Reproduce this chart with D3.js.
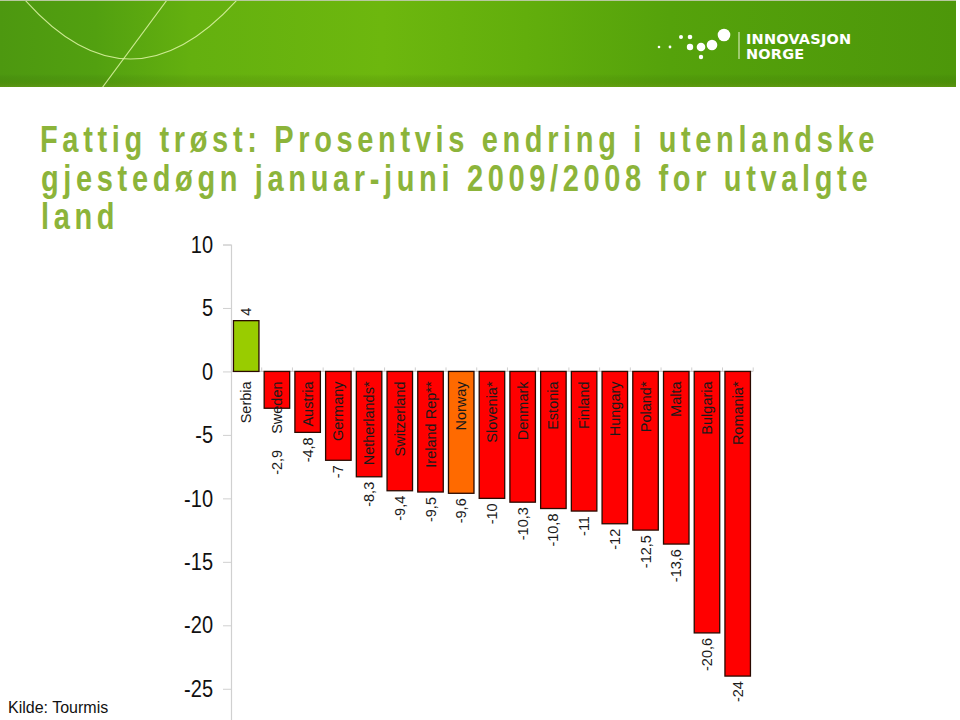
<!DOCTYPE html>
<html>
<head>
<meta charset="utf-8">
<script src="https://cdn.jsdelivr.net/npm/d3@7"></script>
<style>
  html, body { margin: 0; padding: 0; background: #fff; }
  svg { display: block; font-family: Arial, "Liberation Sans", sans-serif; }
</style>
</head>
<body>
<svg id="chart" width="960" height="720"></svg>
<script>
// ---- data ----
const categories = ["Serbia", "Sweden", "Austria", "Germany", "Netherlands*", "Switzerland",
  "Ireland Rep**", "Norway", "Slovenia*", "Denmark", "Estonia", "Finland", "Hungary",
  "Poland*", "Malta", "Bulgaria", "Romania*"];
const values = [4, -2.9, -4.8, -7, -8.3, -9.4, -9.5, -9.6, -10, -10.3, -10.8, -11, -12, -12.5, -13.6, -20.6, -24];
const yTicks = [10, 5, 0, -5, -10, -15, -20, -25];
const titleLines = ["Fattig trøst: Prosentvis endring i utenlandske",
  "gjestedøgn januar-juni 2009/2008 for utvalgte", "land"];
const sourceText = "Kilde: Tourmis";
const logoLines = ["INNOVASJON", "NORGE"];

const data = categories.map((c, i) => ({ cat: c, value: values[i] }));

const svg = d3.select("#chart");

// ---- header banner ----
const defs = svg.append("defs");
const grad = defs.append("linearGradient").attr("id", "banner").attr("x1", 0).attr("x2", 1).attr("y1", 0).attr("y2", 0);
[[0, "#4d9810"], [0.1, "#52a010"], [0.2, "#64b00f"], [0.4, "#6db70e"], [0.55, "#62ae0c"], [0.7, "#55a20b"], [1, "#4d970a"]]
  .forEach(([o, c]) => grad.append("stop").attr("offset", o).attr("stop-color", c));
const vgrad = defs.append("linearGradient").attr("id", "bannerShade").attr("x1", 0).attr("x2", 0).attr("y1", 0).attr("y2", 1);
[[0, "rgba(0,0,0,0)"], [0.85, "rgba(0,0,0,0)"], [0.93, "rgba(60,90,0,0.12)"], [1, "rgba(120,150,30,0.35)"]]
  .forEach(([o, c]) => vgrad.append("stop").attr("offset", o).attr("stop-color", c));
defs.append("clipPath").attr("id", "bannerClip").append("rect").attr("x", 0).attr("y", 1).attr("width", 956).attr("height", 86);

const banner = svg.append("g").attr("clip-path", "url(#bannerClip)");
banner.append("rect").attr("x", 0).attr("y", 1).attr("width", 956).attr("height", 86).attr("fill", "url(#banner)");
banner.append("rect").attr("x", 0).attr("y", 1).attr("width", 956).attr("height", 86).attr("fill", "url(#bannerShade)");
banner.append("path").attr("d", "M25,0 Q130,118 237,0")
  .attr("fill", "none").attr("stroke", "#d9f2a0").attr("stroke-width", 1.1).attr("opacity", 0.9);
banner.append("path").attr("d", "M167,0 Q130,50 102,88")
  .attr("fill", "none").attr("stroke", "#d9f2a0").attr("stroke-width", 1.1).attr("opacity", 0.9);
svg.append("line").attr("x1", 0).attr("x2", 956).attr("y1", 0.5).attr("y2", 0.5).attr("stroke", "#b8c8a0");

// logo
const logo = svg.append("g");
const dots = [[659, 47, 1.3], [670, 47, 1.4], [681, 37, 2], [690, 37, 2.3], [690, 47, 3.2], [701, 47, 4.3], [701, 57, 2.2], [712, 45, 5.3], [724, 35, 6.3]];
logo.selectAll("circle").data(dots).join("circle")
  .attr("cx", d => d[0]).attr("cy", d => d[1]).attr("r", d => d[2]).attr("fill", "#fff");
logo.append("line").attr("x1", 739).attr("x2", 739).attr("y1", 32).attr("y2", 59).attr("stroke", "#e8f5d0").attr("stroke-width", 1);
logo.selectAll("text").data(logoLines).join("text")
  .attr("x", 746).attr("y", (d, i) => 44 + i * 15)
  .attr("fill", "#fff").attr("font-weight", "bold").attr("font-size", 14.5)
  .attr("font-family", "'DejaVu Sans', Arial, sans-serif")
  .attr("letter-spacing", 0.2)
  .text(d => d);

// ---- title ----
svg.append("g").selectAll("text").data(titleLines).join("text")
  .attr("transform", (d, i) => `translate(${i === 0 ? 40 : 41},${152 + i * 38.5}) scale(1,1.3)`)
  .attr("fill", "#8cb43a")
  .attr("font-weight", "bold")
  .attr("font-size", 29)
  .attr("letter-spacing", 4.65)
  .text(d => d);

// ---- scales ----
const y = d3.scaleLinear().domain([10, -27.5]).range([244.5, 720.5]);
const x = d3.scaleBand().domain(categories).range([231, 231 + categories.length * 30.7])
  .paddingInner(0.17).paddingOuter(0.08);

// y axis
const yAxis = svg.append("g").attr("transform", "translate(231,0)")
  .call(d3.axisLeft(y).tickValues(yTicks).tickSize(8).tickPadding(10).tickFormat(d => String(d)));
yAxis.select(".domain").attr("stroke", "#d0d0d0").attr("stroke-width", 1.2);
yAxis.selectAll(".tick line").attr("stroke", "#d0d0d0");
yAxis.selectAll(".tick text").attr("font-size", 20).attr("fill", "#111")
  .attr("font-family", "Arial, 'Liberation Sans', sans-serif")
  .attr("transform", "scale(1,1.2)");

// zero baseline with small ticks between bars
const zeroY = y(0);
const xAxis = svg.append("g").attr("transform", `translate(0,${zeroY})`);
xAxis.append("line").attr("x1", 231).attr("x2", x.range()[1]).attr("stroke", "#d0d0d0").attr("stroke-width", 1.2);
const boundaries = d3.range(categories.length + 1).map(i => x.range()[0] + i * x.step());
xAxis.selectAll(".bt").data(boundaries.slice(1)).join("line").attr("class", "bt")
  .attr("x1", d => d).attr("x2", d => d).attr("y1", 0).attr("y2", -4)
  .attr("stroke", "#d0d0d0");

// bars
const colour = c => c === "Serbia" ? "#99cc00" : c === "Norway" ? "#ff6a00" : "#ff0000";
svg.append("g").selectAll("rect").data(data).join("rect")
  .attr("x", d => x(d.cat))
  .attr("width", x.bandwidth())
  .attr("y", d => Math.min(y(d.value), zeroY))
  .attr("height", d => Math.abs(y(d.value) - zeroY))
  .attr("fill", d => colour(d.cat))
  .attr("stroke", "#2a0a00")
  .attr("stroke-width", 1.3);

// category labels (rotated, inside top of bars)
const catTop = zeroY + 10;
const catLabels = svg.append("g").selectAll("text").data(data).join("text")
  .attr("transform", d => `translate(${x(d.cat) + x.bandwidth() / 2},${catTop}) rotate(-90)`)
  .attr("text-anchor", "end")
  .attr("dy", "0.35em")
  .attr("font-size", 14.5)
  .attr("fill", "#1a1a1a")
  .text(d => d.cat);
const catLen = {};
catLabels.each(function (d) { catLen[d.cat] = this.getComputedTextLength(); });

// value labels
const fmt = d3.formatLocale({ decimal: ",", thousands: " ", grouping: [3], currency: ["", ""], minus: "-" }).format("~g");
svg.append("g").selectAll("text").data(data).join("text")
  .attr("transform", d => {
    const cx = x(d.cat) + x.bandwidth() / 2;
    if (d.value >= 0) return `translate(${cx},${y(d.value) - 5}) rotate(-90)`;
    const barEnd = y(d.value);
    const labelEnd = catTop + catLen[d.cat];
    const top = labelEnd > barEnd ? labelEnd + 16 : barEnd + 5;
    return `translate(${cx},${top}) rotate(-90)`;
  })
  .attr("text-anchor", d => d.value >= 0 ? "start" : "end")
  .attr("dy", "0.35em")
  .attr("font-size", 14.5)
  .attr("fill", "#1a1a1a")
  .text(d => fmt(d.value));

// source
svg.append("text").attr("x", 8).attr("y", 713).attr("font-size", 16).attr("fill", "#111").text(sourceText);
</script>
</body>
</html>
